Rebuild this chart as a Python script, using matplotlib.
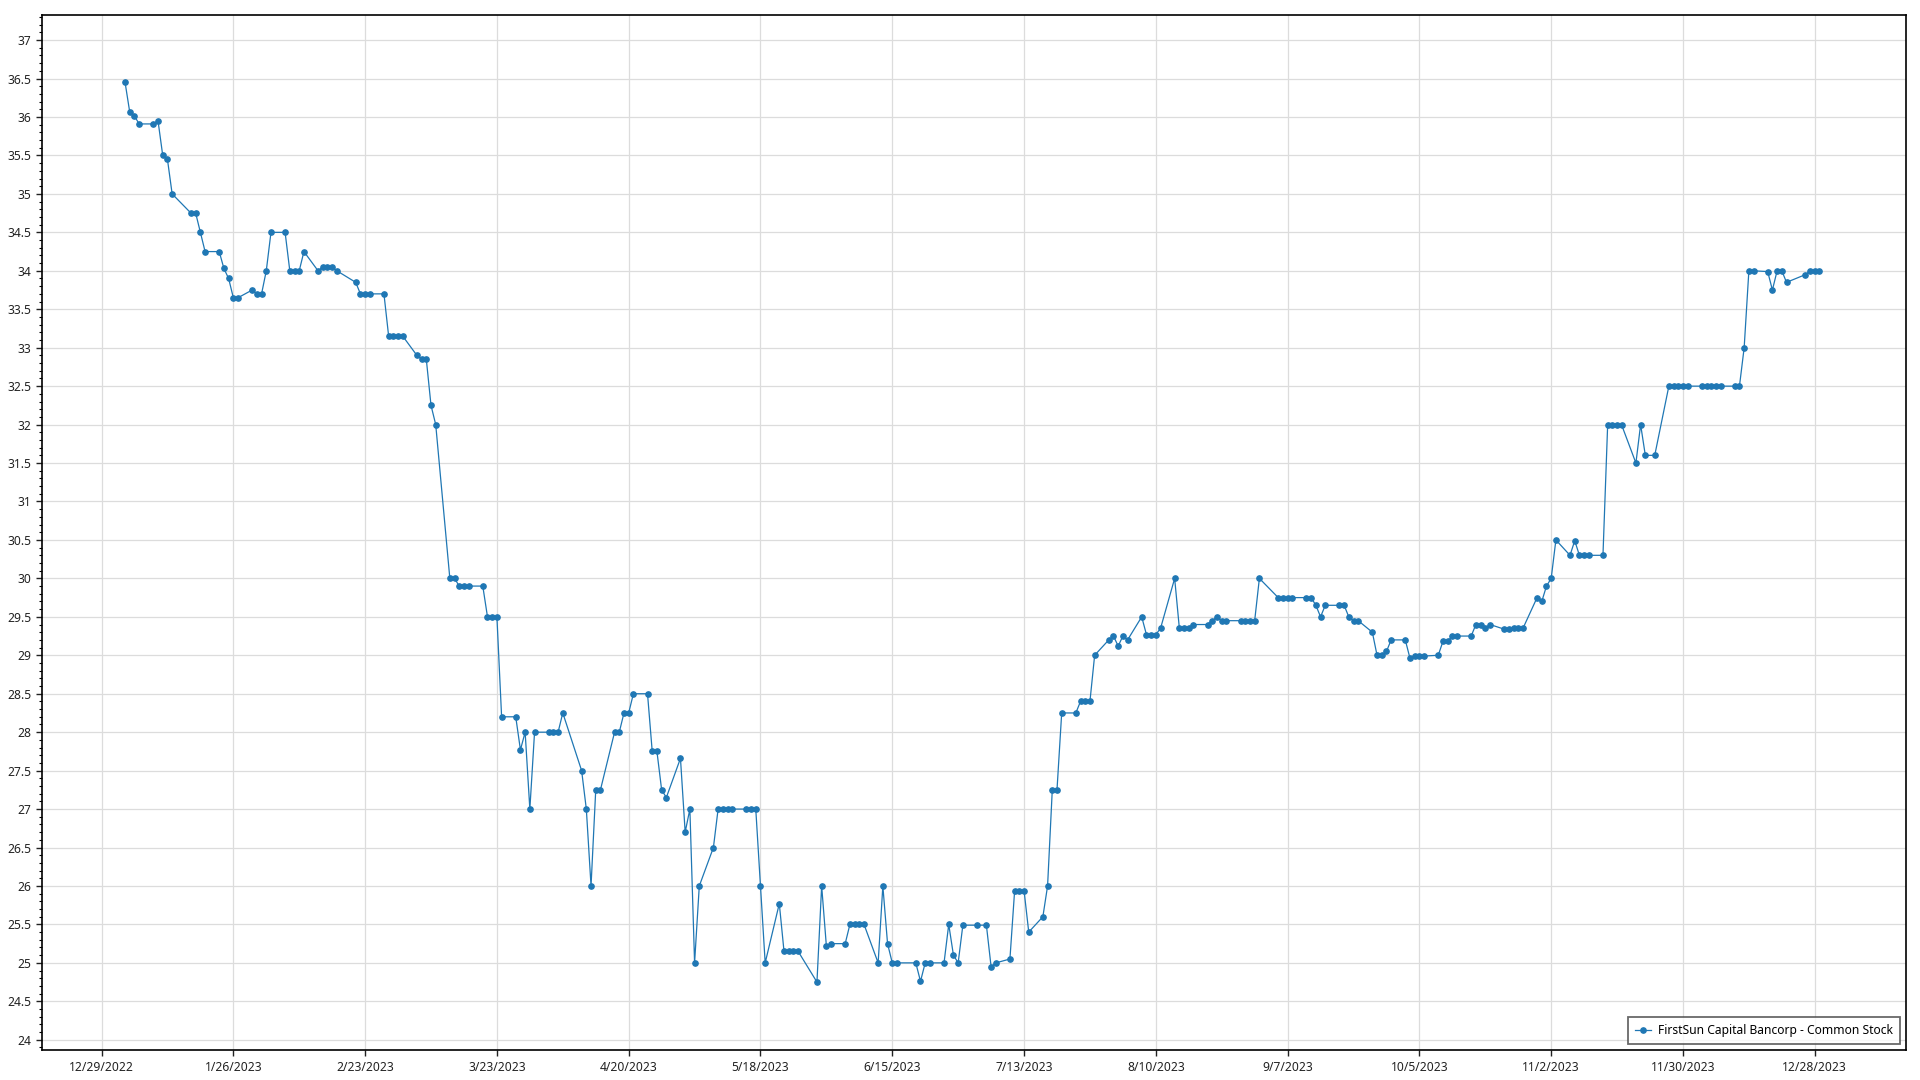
import datetime as dt
import matplotlib
matplotlib.use("Agg")
import matplotlib.pyplot as plt
import matplotlib.dates as mdates
from matplotlib.ticker import MultipleLocator, FuncFormatter

series_name = 'FirstSun Capital Bancorp - Common Stock'

days = ['01-03', '01-04', '01-05', '01-06', '01-09', '01-10', '01-11', '01-12', '01-13',
        '01-17', '01-18', '01-19', '01-20', '01-23', '01-24', '01-25', '01-26', '01-27',
        '01-30', '01-31', '02-01', '02-02', '02-03', '02-06', '02-07', '02-08', '02-09',
        '02-10', '02-13', '02-14', '02-15', '02-16', '02-17', '02-21', '02-22', '02-23',
        '02-24', '02-27', '02-28', '03-01', '03-02', '03-03', '03-06', '03-07', '03-08',
        '03-09', '03-10', '03-13', '03-14', '03-15', '03-16', '03-17', '03-20', '03-21',
        '03-22', '03-23', '03-24', '03-27', '03-28', '03-29', '03-30', '03-31', '04-03',
        '04-04', '04-05', '04-06', '04-10', '04-11', '04-12', '04-13', '04-14', '04-17',
        '04-18', '04-19', '04-20', '04-21', '04-24', '04-25', '04-26', '04-27', '04-28',
        '05-01', '05-02', '05-03', '05-04', '05-05', '05-08', '05-09', '05-10', '05-11',
        '05-12', '05-15', '05-16', '05-17', '05-18', '05-19', '05-22', '05-23', '05-24',
        '05-25', '05-26', '05-30', '05-31', '06-01', '06-02', '06-05', '06-06', '06-07',
        '06-08', '06-09', '06-12', '06-13', '06-14', '06-15', '06-16', '06-20', '06-21',
        '06-22', '06-23', '06-26', '06-27', '06-28', '06-29', '06-30', '07-03', '07-05',
        '07-06', '07-07', '07-10', '07-11', '07-12', '07-13', '07-14', '07-17', '07-18',
        '07-19', '07-20', '07-21', '07-24', '07-25', '07-26', '07-27', '07-28', '07-31',
        '08-01', '08-02', '08-03', '08-04', '08-07', '08-08', '08-09', '08-10', '08-11',
        '08-14', '08-15', '08-16', '08-17', '08-18', '08-21', '08-22', '08-23', '08-24',
        '08-25', '08-28', '08-29', '08-30', '08-31', '09-01', '09-05', '09-06', '09-07',
        '09-08', '09-11', '09-12', '09-13', '09-14', '09-15', '09-18', '09-19', '09-20',
        '09-21', '09-22', '09-25', '09-26', '09-27', '09-28', '09-29', '10-02', '10-03',
        '10-04', '10-05', '10-06', '10-09', '10-10', '10-11', '10-12', '10-13', '10-16',
        '10-17', '10-18', '10-19', '10-20', '10-23', '10-24', '10-25', '10-26', '10-27',
        '10-30', '10-31', '11-01', '11-02', '11-03', '11-06', '11-07', '11-08', '11-09',
        '11-10', '11-13', '11-14', '11-15', '11-16', '11-17', '11-20', '11-21', '11-22',
        '11-24', '11-27', '11-28', '11-29', '11-30', '12-01', '12-04', '12-05', '12-06',
        '12-07', '12-08', '12-11', '12-12', '12-13', '12-14', '12-15', '12-18', '12-19',
        '12-20', '12-21', '12-22', '12-26', '12-27', '12-28', '12-29']

prices = [36.45, 36.06, 36.01, 35.91, 35.91, 35.95, 35.50, 35.45, 35.00,
          34.75, 34.75, 34.50, 34.25, 34.25, 34.03, 33.90, 33.65, 33.65,
          33.75, 33.70, 33.70, 34.00, 34.50, 34.50, 34.00, 34.00, 34.00,
          34.25, 34.00, 34.05, 34.05, 34.05, 34.00, 33.85, 33.70, 33.70,
          33.70, 33.70, 33.15, 33.15, 33.15, 33.15, 32.90, 32.85, 32.85,
          32.25, 32.00, 30.00, 30.00, 29.90, 29.90, 29.90, 29.90, 29.50,
          29.50, 29.50, 28.20, 28.20, 27.77, 28.00, 27.00, 28.00, 28.00,
          28.00, 28.00, 28.25, 27.50, 27.00, 26.00, 27.25, 27.25, 28.00,
          28.00, 28.25, 28.25, 28.50, 28.50, 27.75, 27.75, 27.25, 27.15,
          27.66, 26.70, 27.00, 25.00, 26.00, 26.50, 27.00, 27.00, 27.00,
          27.00, 27.00, 27.00, 27.00, 26.00, 25.00, 25.77, 25.15, 25.15,
          25.15, 25.15, 24.75, 26.00, 25.22, 25.25, 25.25, 25.50, 25.50,
          25.50, 25.50, 25.00, 26.00, 25.25, 25.00, 25.00, 25.00, 24.76,
          25.00, 25.00, 25.00, 25.50, 25.10, 25.00, 25.49, 25.49, 25.49,
          24.95, 25.00, 25.05, 25.94, 25.94, 25.94, 25.40, 25.60, 26.00,
          27.25, 27.25, 28.25, 28.25, 28.40, 28.40, 28.40, 29.00, 29.20,
          29.25, 29.12, 29.25, 29.20, 29.50, 29.27, 29.27, 29.27, 29.35,
          30.00, 29.35, 29.35, 29.35, 29.40, 29.40, 29.45, 29.50, 29.45,
          29.45, 29.45, 29.45, 29.45, 29.45, 30.00, 29.75, 29.75, 29.75,
          29.75, 29.75, 29.75, 29.65, 29.50, 29.65, 29.65, 29.65, 29.50,
          29.45, 29.45, 29.30, 29.00, 29.00, 29.05, 29.20, 29.20, 28.96,
          28.99, 28.99, 28.99, 29.00, 29.18, 29.18, 29.25, 29.25, 29.25,
          29.40, 29.40, 29.35, 29.40, 29.34, 29.34, 29.35, 29.35, 29.35,
          29.75, 29.70, 29.90, 30.00, 30.50, 30.30, 30.49, 30.30, 30.30,
          30.30, 30.30, 32.00, 32.00, 31.99, 31.99, 31.50, 32.00, 31.60,
          31.60, 32.50, 32.50, 32.50, 32.50, 32.50, 32.50, 32.50, 32.50,
          32.50, 32.50, 32.50, 32.50, 33.00, 34.00, 34.00, 33.99, 33.75,
          34.00, 34.00, 33.85, 33.95, 34.00, 34.00, 34.00]

dates = [dt.datetime.strptime('2023-' + d, '%Y-%m-%d') for d in days]

plt.rcParams['font.family'] = ['Noto Sans', 'DejaVu Sans']

fig = plt.figure(figsize=(19.2, 10.8), dpi=100)
ax = fig.add_axes([0.022, 0.028, 0.9705, 0.958])

ax.plot(dates, prices,
        color='#1f77b4',
        lw=0.9,
        marker='o',
        markersize=3.8,
        label=series_name)

start = dt.datetime(2022, 12, 29)
ax.set_xlim(start - dt.timedelta(days=12.6), start + dt.timedelta(days=383.3))
ax.set_ylim(23.87, 37.325)

ticks = [start + dt.timedelta(days=28 * i) for i in range(14)]
ax.set_xticks(ticks)
ax.xaxis.set_major_formatter(FuncFormatter(
    lambda x, pos: '{d.month}/{d.day}/{d.year}'.format(d=mdates.num2date(x))))
ax.yaxis.set_major_locator(MultipleLocator(0.5))
ax.yaxis.set_minor_locator(MultipleLocator(0.1))
ax.yaxis.set_major_formatter(FuncFormatter(lambda v, pos: '%g' % v))

ax.tick_params(axis='both', which='major', labelsize=8.7, length=4,
               width=1, colors='#222222', pad=4)
ax.tick_params(axis='y', which='minor', length=2.5, width=0.8)
ax.grid(color='#dcdcdc', lw=0.9)
for s in ax.spines.values():
    s.set_color('black')
    s.set_linewidth(1.2)

leg = ax.legend(loc='lower right', fontsize=8.7, frameon=True, fancybox=False,
                shadow=False, borderaxespad=0.5, handlelength=1.3,
                handletextpad=0.6, borderpad=0.55)
leg.get_frame().set_edgecolor('#444444')
leg.get_frame().set_linewidth(1.3)

plt.savefig('out.png', dpi=100)
